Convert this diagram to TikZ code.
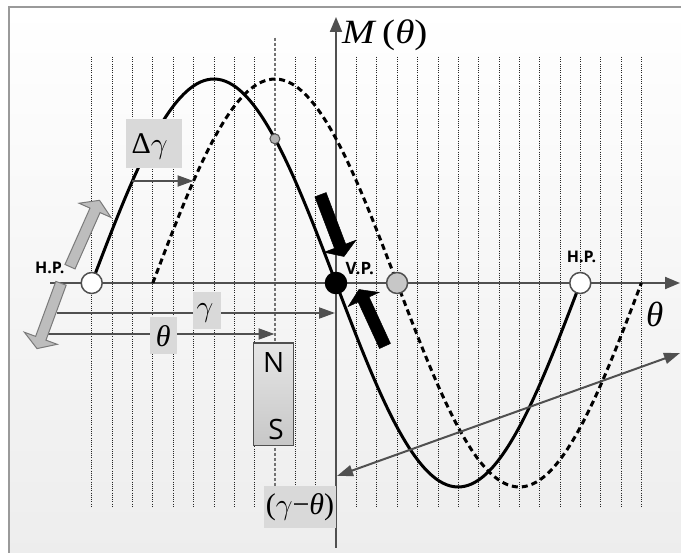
\documentclass[tikz,border=0pt]{standalone}
\usepackage{graphicx}
\usepackage{fontspec}
\setmainfont{Liberation Serif}
\newfontfamily\widefont[FakeStretch=1.15]{Liberation Serif}
\newfontfamily\osans{Open Sans}
\usetikzlibrary{arrows.meta,calc}
\newcommand\gam{\scalebox{1.2}{\fontsize{24.88}{30}\selectfont$\gamma$}}
\definecolor{axisgray}{HTML}{505050}
\definecolor{boxgray}{HTML}{D9D9D9}
\definecolor{framegray}{HTML}{9A9A9A}
\definecolor{arrgray}{HTML}{BDBDBD}
\definecolor{arredge}{HTML}{7A7A7A}
\tikzset{
  axisline/.style={draw=axisgray, line width=2pt, -{Triangle[length=15pt,width=12pt]}},
  measarrow/.style={draw=axisgray, line width=2pt, -{Triangle[length=16pt,width=11pt]}},
  gridline/.style={draw=black!85, line width=0.6pt, dash pattern=on 1pt off 1.2pt},
  magline/.style={draw=black!55, line width=1.8pt, dash pattern=on 3pt off 2pt},
  solidcurve/.style={draw=black, line width=3pt},
  dashcurve/.style={draw=black, line width=3pt, dash pattern=on 6pt off 4pt},
  mathtxt/.style={inner sep=0pt, font=\fontsize{30}{36}\selectfont},
  labelbox/.style={fill=boxgray, draw=none},
  ptlabel/.style={inner sep=0pt, font=\osans\bfseries\fontsize{16}{19}\selectfont},
  polelabel/.style={inner sep=0pt, font=\osans\fontsize{28}{32}\selectfont},
  bigpt/.style={circle, draw=axisgray, line width=1.5pt, fill=white, minimum size=21pt, inner sep=0pt},
  smallpt/.style={circle, draw=axisgray, line width=1pt, fill=black!30, minimum size=10pt, inner sep=0pt},
  blackarrow/.style={fill=black, draw=black, line width=0.5pt},
  grayarrow/.style={fill=arrgray, draw=arredge, line width=1pt},
}
% #1 style, #2 tail, #3 tip, #4 shaft half width, #5 head half width, #6 head length
\newcommand\blockarrow[6]{%
  \coordinate (bah) at ($(#3)!#6!(#2)$);
  \filldraw[#1] ($(#2)!#4!90:(#3)$) -- ($(bah)!#4!90:(#3)$) -- ($(bah)!#5!90:(#3)$)
    -- (#3) -- ($(bah)!#5!-90:(#3)$) -- ($(bah)!#4!-90:(#3)$) -- ($(#2)!#4!-90:(#3)$) -- cycle;
}
\begin{document}
\begin{tikzpicture}[x=1pt,y=-1pt]
\useasboundingbox (0,0) rectangle (681,553);
\fill[white] (0,0) rectangle (681,553);
\shade[top color=white, bottom color=black!7] (9,7) rectangle (681,553);
\draw[framegray, line width=2pt] (9,553) -- (9,7) -- (681,7);

% grid
\foreach \k in {0,...,8,10,11,13,14,...,27}
  \draw[gridline] ({91.7+20.36*\k},57) -- ({91.7+20.36*\k},507);
\draw[magline] (274.9,37.7) -- (274.9,486);

% axes
\coordinate (xs) at (50,283);
\coordinate (xe) at (680,283);
\coordinate (ys) at (336,548);
\coordinate (ye) at (336,17);
\draw[axisline] (xs) -- (xe);
\draw[axisline] (ys) -- (ye);

% curves
\draw[solidcurve] plot[domain=91.7:580.3, samples=140, smooth] (\x, {283-204*sin(0.7368*(\x-91.7))});
\draw[dashcurve] plot[domain=152.8:641.4, samples=140, smooth] (\x, {283-204*sin(0.7368*(\x-152.8))});

% measuring arrows
\coordinate (dg1) at (132.4,181);
\coordinate (dg2) at (193.5,181);
\draw[measarrow] (dg1) -- (dg2);
\coordinate (g1) at (56.7,313);
\coordinate (g2) at (335,313);
\draw[measarrow] (g1) -- (g2);
\coordinate (t1) at (48.3,334);
\coordinate (t2) at (274.5,334);
\draw[measarrow] (t1) -- (t2);
\coordinate (d1) at (337,476);
\coordinate (d2) at (680,353);
\draw[draw=axisgray, line width=2pt, {Triangle[length=16pt,width=11pt]}-{Triangle[length=16pt,width=11pt]}] (d1) -- (d2);

% points
\node[bigpt] (hp1) at (91.7,283) {};
\node[bigpt] (hp2) at (580.3,283) {};
\node[bigpt, fill=black, draw=black] (vp) at (336,283) {};
\node[bigpt, fill=black!22] (gp) at (397.1,283) {};
\node[smallpt] (mp) at (274.9,138.8) {};

% point labels
\node[ptlabel] (hpl1) at (49.7,268) {H.P.};
\node[ptlabel, font=\osans\bfseries\fontsize{17}{20}\selectfont] (vpl) at (359.7,268.5) {V.P.};
\node[ptlabel] (hpl2) at (581.5,256.5) {H.P.};

% block arrows
\coordinate (ba1t) at (320.5,194.7); \coordinate (ba1p) at (344,256.5);
\blockarrow{blackarrow}{ba1t}{ba1p}{6pt}{17pt}{11pt}
\coordinate (ba2t) at (385,346); \coordinate (ba2p) at (359,289.5);
\blockarrow{blackarrow}{ba2t}{ba2p}{6pt}{17pt}{11pt}
\coordinate (ga1t) at (70,266.7); \coordinate (ga1p) at (99.5,200.3);
\blockarrow{grayarrow}{ga1t}{ga1p}{5.5pt}{17.5pt}{11pt}
\coordinate (ga2t) at (61,283.3); \coordinate (ga2p) at (37,348.6);
\blockarrow{grayarrow}{ga2t}{ga2p}{5.5pt}{17.5pt}{11pt}

% label boxes
\fill[labelbox] (126,119) rectangle (182,168);
\node[mathtxt, anchor=base west] (dglabel) at (131.5,153.3) {Δ\gam};
\fill[labelbox] (192.7,292) rectangle (220.7,329);
\node[mathtxt] (glabel) at (205,312.5) {\gam};
\fill[labelbox] (150,317) rectangle (176.7,354);
\node[mathtxt] (tlabel) at (163.3,335.8) {\textit{θ}};
\fill[labelbox] (264,486) rectangle (336,527.7);
\node[mathtxt] (gtlabel) at (300,507.5) {(\gam−\textit{θ})};

% magnet
\node[draw=axisgray, line width=1.5pt, top color=black!10, bottom color=black!22,
      minimum width=40pt, minimum height=102.7pt, inner sep=0pt] (mag) at (273.3,394.3) {};
\node[polelabel] (north) at (273.8,362.5) {N};
\node[polelabel] (south) at (276,429) {S};

% axis labels
\node[inner sep=0pt, font=\widefont\fontsize{34}{40}\selectfont, anchor=base west] (mlabel) at (342,43.3) {\textit{M}\,(\textit{θ})};
\node[mathtxt, font=\fontsize{35}{40}\selectfont, anchor=base west] (thlabel) at (646,326.3) {\textit{θ}};
\end{tikzpicture}
\end{document}
